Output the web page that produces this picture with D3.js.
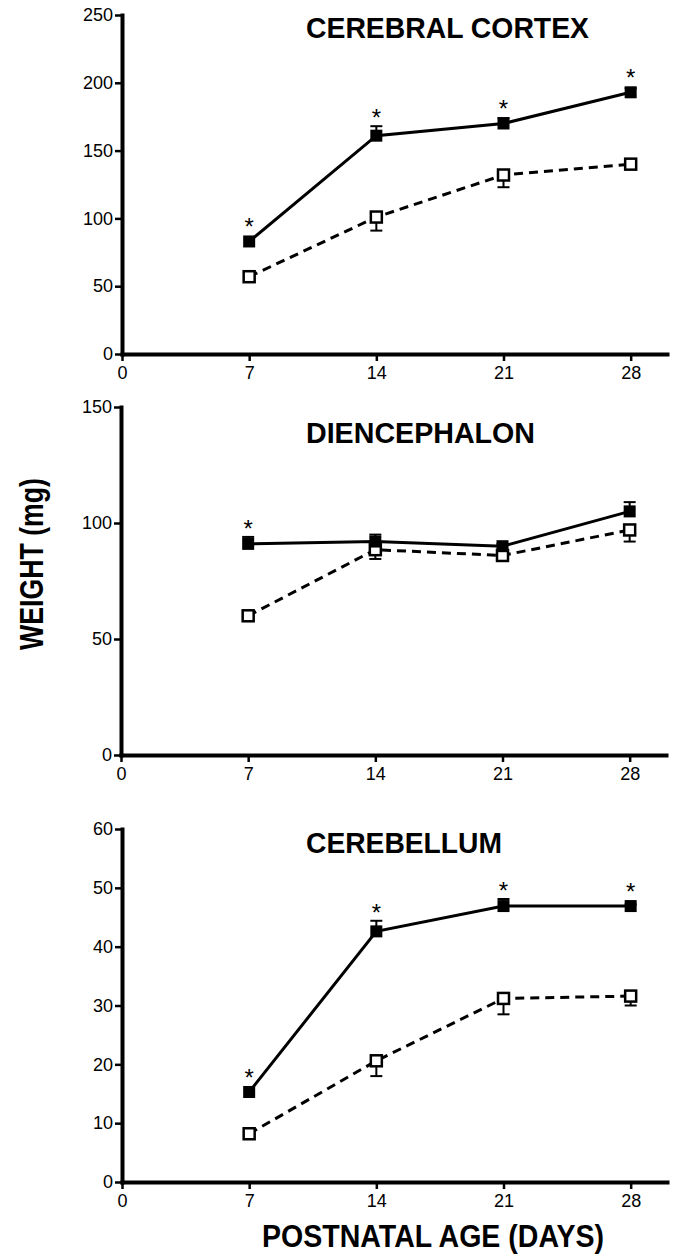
<!DOCTYPE html>
<html>
<head>
<meta charset="utf-8">
<script src="https://cdn.jsdelivr.net/npm/d3@7"></script>
<style>
  body { margin: 0; background: #fff; }
  text { font-family: "Liberation Sans", Arial, sans-serif; fill: #000; }
</style>
</head>
<body>
<div id="chart"></div>
<script>
/* x values shared by the three panels */
var days = [7, 14, 21, 28];
var xTicks = [0, 7, 14, 21, 28];

/* cerebral cortex */
var cortexFilled = [83, 161, 170, 193];
var cortexFilledErr = [0, 7, 4, 3];
var cortexOpen = [57, 101, 132, 140];
var cortexOpenErr = [0, 10, 9, 1];
var cortexStars = [1, 1, 1, 1];
var cortexTicks = [0, 50, 100, 150, 200, 250];

/* diencephalon */
var dienFilled = [91, 92, 90, 105];
var dienFilledErr = [3, 3, 1, 4];
var dienOpen = [60, 88.5, 86, 97];
var dienOpenErr = [0, 4, 1.5, 5];
var dienStars = [1, 0, 0, 0];
var dienTicks = [0, 50, 100, 150];

/* cerebellum */
var cerebFilled = [15.3, 42.6, 46.9, 46.9];
var cerebFilledErr = [0, 1.8, 1.2, 0.3];
var cerebOpen = [8.2, 20.6, 31.2, 31.6];
var cerebOpenErr = [0, 2.6, 2.7, 1.6];
var cerebStars = [1, 1, 1, 1];
var cerebTicks = [0, 10, 20, 30, 40, 50, 60];

var width = 675, height = 1259;

var svg = d3.select("#chart").append("svg")
    .attr("width", width).attr("height", height);

svg.append("rect").attr("width", width).attr("height", height).attr("fill", "#fff");

var panels = [
  {title: "CEREBRAL CORTEX", filled: cortexFilled, filledErr: cortexFilledErr,
   open: cortexOpen, openErr: cortexOpenErr, stars: cortexStars, ticks: cortexTicks,
   left: 122, top: 15, bottom: 354, titleY: 38, titleW: 283},
  {title: "DIENCEPHALON", filled: dienFilled, filledErr: dienFilledErr,
   open: dienOpen, openErr: dienOpenErr, stars: dienStars, ticks: dienTicks,
   left: 121, top: 407, bottom: 755, titleY: 443, titleW: 229},
  {title: "CEREBELLUM", filled: cerebFilled, filledErr: cerebFilledErr,
   open: cerebOpen, openErr: cerebOpenErr, stars: cerebStars, ticks: cerebTicks,
   left: 122, top: 829, bottom: 1182, titleY: 853, titleW: 196}
];

panels.forEach(function(p) {
  var x = d3.scaleLinear().domain([0, 30]).range([p.left, p.left + 545]);
  var y = d3.scaleLinear().domain([0, d3.max(p.ticks)]).range([p.bottom, p.top]);

  var g = svg.append("g");

  /* axes */
  var gy = g.append("g")
      .attr("transform", "translate(" + p.left + ",0)")
      .call(d3.axisLeft(y).tickValues(p.ticks).tickSize(7).tickSizeOuter(0).tickPadding(2));
  var gx = g.append("g")
      .attr("transform", "translate(0," + p.bottom + ")")
      .call(d3.axisBottom(x).tickValues(xTicks).tickSize(7).tickSizeOuter(0).tickPadding(5));

  [gy, gx].forEach(function(a) {
    a.select(".domain").attr("stroke-width", 4).attr("stroke-linecap", "square");
    a.selectAll(".tick line").attr("stroke-width", 2.5);
    a.selectAll(".tick text")
        .attr("font-size", 18)
        .attr("font-family", "'Liberation Sans', Arial, sans-serif")
        .attr("fill", "#000");
  });

  /* panel title */
  g.append("text")
      .attr("x", 306)
      .attr("y", p.titleY)
      .attr("font-size", 29)
      .attr("font-weight", "bold")
      .attr("textLength", p.titleW)
      .attr("lengthAdjust", "spacingAndGlyphs")
      .text(p.title);

  var filledPts = days.map(function(d, i) { return {x: d, y: p.filled[i], e: p.filledErr[i], s: p.stars[i]}; });
  var openPts = days.map(function(d, i) { return {x: d, y: p.open[i], e: p.openErr[i]}; });

  /* error bars: up for filled, down for open */
  var eb = g.append("g").attr("stroke", "#000").attr("stroke-width", 2);
  filledPts.forEach(function(d) {
    if (!d.e) return;
    eb.append("line").attr("x1", x(d.x)).attr("x2", x(d.x)).attr("y1", y(d.y)).attr("y2", y(d.y + d.e));
    eb.append("line").attr("x1", x(d.x) - 6).attr("x2", x(d.x) + 6).attr("y1", y(d.y + d.e)).attr("y2", y(d.y + d.e));
  });
  openPts.forEach(function(d) {
    if (!d.e) return;
    eb.append("line").attr("x1", x(d.x)).attr("x2", x(d.x)).attr("y1", y(d.y)).attr("y2", y(d.y - d.e));
    eb.append("line").attr("x1", x(d.x) - 6).attr("x2", x(d.x) + 6).attr("y1", y(d.y - d.e)).attr("y2", y(d.y - d.e));
  });

  var line = d3.line().x(function(d) { return x(d.x); }).y(function(d) { return y(d.y); });

  g.append("path").datum(openPts)
      .attr("d", line)
      .attr("fill", "none")
      .attr("stroke", "#000")
      .attr("stroke-width", 3)
      .attr("stroke-dasharray", "9,6");

  g.append("path").datum(filledPts)
      .attr("d", line)
      .attr("fill", "none")
      .attr("stroke", "#000")
      .attr("stroke-width", 3);

  /* markers */
  g.selectAll(".open").data(openPts).enter().append("rect")
      .attr("x", function(d) { return x(d.x) - 5.5; })
      .attr("y", function(d) { return y(d.y) - 5.5; })
      .attr("width", 11).attr("height", 11)
      .attr("fill", "#fff")
      .attr("stroke", "#000")
      .attr("stroke-width", 2.5);

  g.selectAll(".filled").data(filledPts).enter().append("rect")
      .attr("x", function(d) { return x(d.x) - 6; })
      .attr("y", function(d) { return y(d.y) - 6; })
      .attr("width", 12).attr("height", 12)
      .attr("fill", "#000");

  /* significance stars */
  g.selectAll(".star").data(filledPts.filter(function(d) { return d.s; })).enter().append("text")
      .attr("x", function(d) { return x(d.x); })
      .attr("y", function(d) { return Math.min(y(d.y) - 19, y(d.y + d.e) - 13) + 13; })
      .attr("text-anchor", "middle")
      .attr("font-size", 24)
      .text("*");
});

/* axis titles */
svg.append("text")
    .attr("transform", "translate(43,564) rotate(-90)")
    .attr("text-anchor", "middle")
    .attr("font-size", 33)
    .attr("font-weight", "bold")
    .attr("textLength", 172)
    .attr("lengthAdjust", "spacingAndGlyphs")
    .text("WEIGHT (mg)");

svg.append("text")
    .attr("x", 262)
    .attr("y", 1247)
    .attr("font-size", 32)
    .attr("font-weight", "bold")
    .attr("textLength", 342)
    .attr("lengthAdjust", "spacingAndGlyphs")
    .text("POSTNATAL AGE (DAYS)");
</script>
</body>
</html>
